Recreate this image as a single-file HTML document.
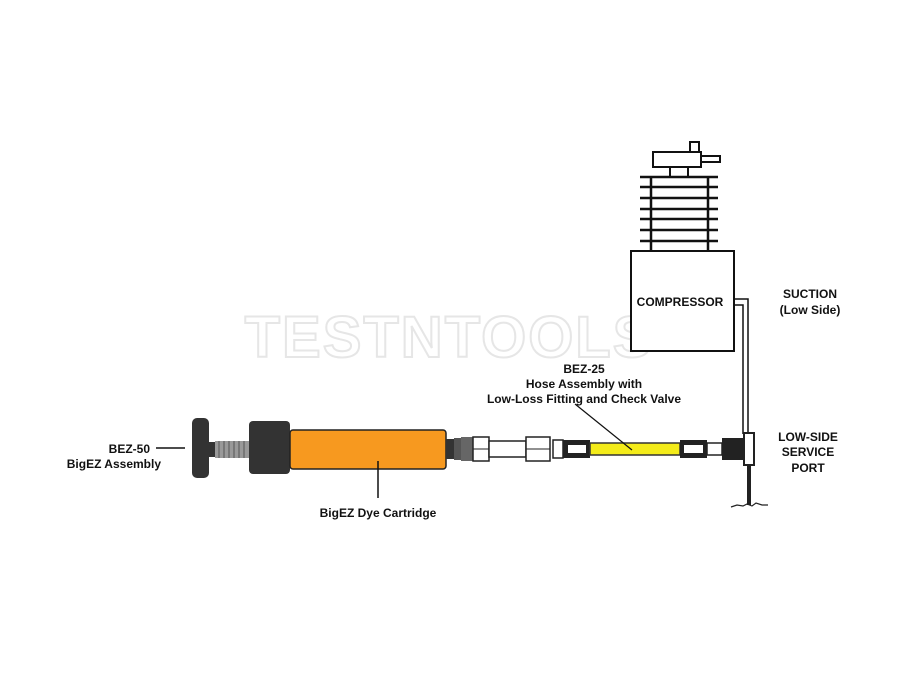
<!DOCTYPE html>
<html><head><style>body{margin:0;background:#fff}svg{display:block}text{font-family:"Liberation Sans",Arial,sans-serif;font-weight:bold;font-size:12px;fill:#111}</style></head>
<body>
<svg width="900" height="675" viewBox="0 0 900 675">
<!-- watermark -->
<text x="449" y="357" text-anchor="middle" style="font-size:58px;font-weight:900;fill:none;stroke:#e6e6e6;stroke-width:2;letter-spacing:2px">TESTNTOOLS</text>
<!-- compressor -->
<g stroke="#111" stroke-width="2" fill="#fff">
<rect x="653" y="152" width="48" height="15"/>
<rect x="690" y="142" width="9" height="10"/>
<rect x="701" y="156" width="19" height="6"/>
<line x1="670" y1="167" x2="670" y2="176"/><line x1="688" y1="167" x2="688" y2="176"/>
<line x1="651" y1="176" x2="651" y2="250" stroke-width="2.5"/><line x1="708" y1="176" x2="708" y2="250" stroke-width="2.5"/>
<g stroke-width="2.5"><line x1="640" y1="177" x2="718" y2="177"/><line x1="640" y1="187" x2="718" y2="187"/><line x1="640" y1="198" x2="718" y2="198"/><line x1="640" y1="209" x2="718" y2="209"/><line x1="640" y1="219" x2="718" y2="219"/><line x1="640" y1="230" x2="718" y2="230"/><line x1="640" y1="241" x2="718" y2="241"/></g>
<rect x="631" y="251" width="103" height="100"/>
<polyline points="734,299 748,299 748,434" fill="none" stroke-width="1.5"/>
<polyline points="734,305 743,305 743,434" fill="none" stroke-width="1.5"/>
</g>
<text x="680" y="306" text-anchor="middle">COMPRESSOR</text>
<!-- BigEZ -->
<rect x="192" y="418" width="17" height="60" rx="5" fill="#333"/>
<rect x="208" y="442" width="8" height="15" fill="#333"/>
<rect x="215" y="441" width="36" height="17" fill="#999"/>
<g stroke="#555" stroke-width="1"><line x1="219" y1="441" x2="219" y2="458"/><line x1="224" y1="441" x2="224" y2="458"/><line x1="229" y1="441" x2="229" y2="458"/><line x1="234" y1="441" x2="234" y2="458"/><line x1="239" y1="441" x2="239" y2="458"/><line x1="244" y1="441" x2="244" y2="458"/></g>
<rect x="249" y="421" width="41" height="53" rx="4" fill="#333"/>
<rect x="290" y="430" width="156" height="39" rx="3" fill="#f7991f" stroke="#222" stroke-width="1.5"/>
<line x1="378" y1="461" x2="378" y2="498" stroke="#111" stroke-width="1.5"/>
<!-- coupler -->
<rect x="446" y="439" width="8" height="20" fill="#333"/>
<rect x="454" y="438" width="7" height="22" fill="#555"/>
<rect x="461" y="437" width="12" height="24" fill="#666"/>
<rect x="473" y="437" width="16" height="24" fill="#fff" stroke="#222" stroke-width="1.5"/>
<line x1="473" y1="449" x2="489" y2="449" stroke="#222"/>
<rect x="489" y="441" width="37" height="16" fill="#fff" stroke="#222" stroke-width="1.5"/>
<rect x="526" y="437" width="24" height="24" fill="#fff" stroke="#222" stroke-width="1.5"/>
<line x1="526" y1="449" x2="550" y2="449" stroke="#222"/>
<rect x="553" y="440" width="10" height="18" fill="#fff" stroke="#222" stroke-width="1.5"/>
<rect x="563" y="440" width="27" height="18" fill="#222"/>
<rect x="568" y="445" width="18" height="8" fill="#fff"/>
<rect x="590" y="443" width="90" height="12" fill="#f4ec1a" stroke="#333" stroke-width="1.5"/>
<rect x="680" y="440" width="27" height="18" fill="#222"/>
<rect x="684" y="445" width="19" height="8" fill="#fff"/>
<rect x="707" y="443" width="15" height="12" fill="#fff" stroke="#222" stroke-width="1.5"/>
<rect x="722" y="438" width="22" height="22" fill="#222"/>
<rect x="744" y="433" width="10" height="32" fill="#fff" stroke="#222" stroke-width="2"/>
<rect x="747" y="465" width="4" height="40" fill="#222"/>
<path d="M731 507 l6 -2 l6 1 l4 -2 l5 2 l4 -3 l6 2 l6 0" stroke="#222" fill="none" stroke-width="1.2"/>
<line x1="575" y1="404" x2="632" y2="450" stroke="#111" stroke-width="1.2"/>
<line x1="156" y1="448" x2="185" y2="448" stroke="#111" stroke-width="1.5"/>
<!-- labels -->
<text x="150" y="453" text-anchor="end">BEZ-50</text>
<text x="161" y="468" text-anchor="end">BigEZ Assembly</text>
<text x="378" y="517" text-anchor="middle">BigEZ Dye Cartridge</text>
<text x="584" y="373" text-anchor="middle">BEZ-25</text>
<text x="584" y="388" text-anchor="middle">Hose Assembly with</text>
<text x="584" y="403" text-anchor="middle">Low-Loss Fitting and Check Valve</text>
<text x="810" y="298" text-anchor="middle">SUCTION</text>
<text x="810" y="314" text-anchor="middle">(Low Side)</text>
<text x="808" y="441" text-anchor="middle">LOW-SIDE</text>
<text x="808" y="456" text-anchor="middle">SERVICE</text>
<text x="808" y="472" text-anchor="middle">PORT</text>
</svg>
</body></html>
